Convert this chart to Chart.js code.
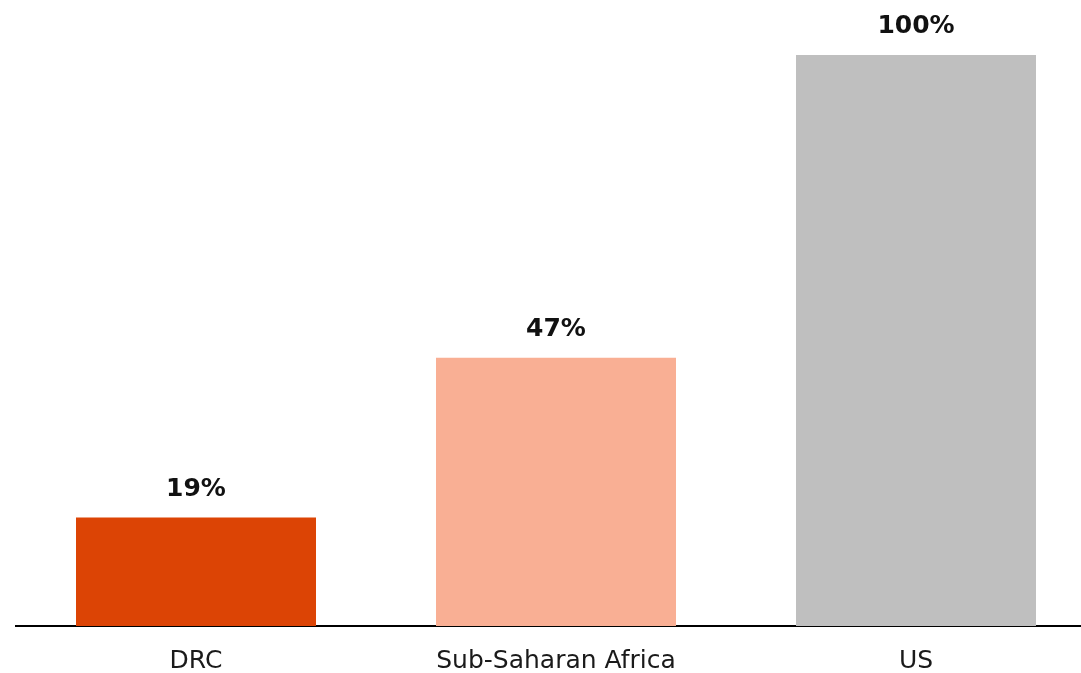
<!DOCTYPE html>
<html>
<head>
<meta charset="utf-8">
<script src="https://cdn.jsdelivr.net/npm/chart.js@4.4.1/dist/chart.umd.min.js"></script>
<style>
  html, body { margin: 0; padding: 0; background: #fff; overflow: hidden; }
  #wrap { width: 1081px; height: 673px; overflow: hidden; position: relative; }
  #box { position: absolute; left: 0; top: 0; width: 1096px; height: 673px; }
</style>
</head>
<body>
<div id="wrap"><div id="box"><canvas id="c"></canvas></div></div>
<script>
const categories = ["DRC", "Sub-Saharan Africa", "US"];
const values = [19, 47, 100];
const barColors = ["#DC4405", "#F9AF94", "#BFBFBF"];

// Draws the bold percentage above each bar
const valueLabels = {
  id: "valueLabels",
  afterDatasetsDraw(chart) {
    const ctx = chart.ctx;
    const meta = chart.getDatasetMeta(0);
    ctx.save();
    ctx.font = "bold 25px 'DejaVu Sans', sans-serif";
    ctx.fillStyle = "#111";
    ctx.textAlign = "center";
    ctx.textBaseline = "alphabetic";
    meta.data.forEach((bar, i) => {
      ctx.fillText(values[i] + "%", bar.x, bar.y - 22);
    });
    ctx.restore();
  }
};

new Chart(document.getElementById("c"), {
  type: "bar",
  data: {
    labels: categories,
    datasets: [{
      data: values,
      backgroundColor: barColors,
      borderWidth: 0,
      categoryPercentage: 1,
      barPercentage: 2 / 3
    }]
  },
  options: {
    responsive: true,
    maintainAspectRatio: false,
    animation: false,
    layout: { padding: { left: 16, top: 55, right: 0, bottom: 0 } },
    plugins: { legend: { display: false }, tooltip: { enabled: false } },
    scales: {
      x: {
        grid: { display: false, drawTicks: false },
        border: { display: true, color: "#000", width: 2 },
        ticks: {
          color: "#1a1a1a",
          padding: 20,
          font: { family: "'DejaVu Sans', sans-serif", size: 25 }
        },
        afterFit(scale) { scale.height = 47; }
      },
      y: {
        display: false,
        min: 0,
        max: 100
      }
    }
  },
  plugins: [valueLabels]
});
</script>
</body>
</html>
